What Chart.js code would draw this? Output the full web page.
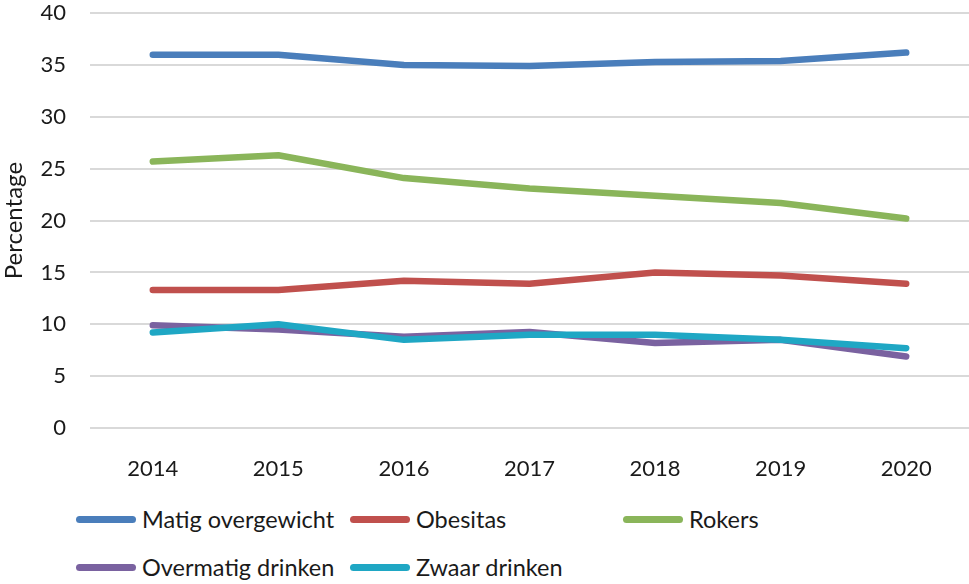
<!DOCTYPE html>
<html>
<head>
<meta charset="utf-8">
<script src="https://cdn.jsdelivr.net/npm/chart.js@4"></script>
<style>
  html, body { margin: 0; padding: 0; background: #fff; overflow: hidden; }
  #wrap { position: relative; width: 969px; height: 584px; font-family: Lato, sans-serif; overflow: hidden; }
  #chart-box { position: absolute; left: 0; top: -24px; width: 969px; height: 509px; }
  #legend {
    position: absolute; left: 76px; top: 495px;
    display: grid; grid-template-columns: 274px 273px 200px; grid-auto-rows: 48px;
  }
  .item { display: flex; align-items: center; font-size: 23.5px; color: #1a1a1a; white-space: nowrap; }
  .swatch { width: 60px; height: 7px; border-radius: 4px; margin-right: 6px; flex: none; }
</style>
</head>
<body>
<div id="wrap">
  <div id="chart-box"><canvas id="lineChart"></canvas></div>
  <div id="legend"></div>
</div>
<script>
const years = ["2014", "2015", "2016", "2017", "2018", "2019", "2020"];
const seriesNames = ["Matig overgewicht", "Obesitas", "Rokers", "Overmatig drinken", "Zwaar drinken"];
const matigOvergewicht = [36.0, 36.0, 35.0, 34.9, 35.3, 35.4, 36.2];
const obesitas = [13.3, 13.3, 14.2, 13.9, 15.0, 14.7, 13.9];
const rokers = [25.7, 26.3, 24.1, 23.1, 22.4, 21.7, 20.2];
const overmatigDrinken = [9.9, 9.5, 8.8, 9.25, 8.2, 8.5, 6.9];
const zwaarDrinken = [9.2, 10.0, 8.5, 9.0, 9.0, 8.5, 7.7];
const colors = ["#4a7ebb", "#c0504d", "#8ab55a", "#7a62a0", "#1fa7c4"];

const seriesData = [matigOvergewicht, obesitas, rokers, overmatigDrinken, zwaarDrinken];

const datasets = seriesNames.map((name, i) => ({
  label: name,
  data: seriesData[i],
  borderColor: colors[i],
  backgroundColor: colors[i],
  borderWidth: 6.5,
  borderCapStyle: "round",
  borderJoinStyle: "round",
  pointRadius: 0,
  tension: 0,
  fill: false,
  order: seriesNames.length - 1 - i, // last series on top, like Excel
}));

const ctx = document.getElementById("lineChart").getContext("2d");
const chart = new Chart(ctx, {
  type: "line",
  data: { labels: years, datasets: datasets },
  options: {
    responsive: true,
    maintainAspectRatio: false,
    animation: false,
    layout: { padding: 0 },
    plugins: {
      legend: { display: false },
      tooltip: { enabled: false },
    },
    scales: {
      x: {
        offset: true,
        grid: { display: false },
        border: { display: false },
        ticks: { color: "#1a1a1a", font: { family: "Lato", size: 22 }, padding: 20 },
        afterFit: (scale) => { scale.height = 57; },
      },
      y: {
        min: 0,
        max: 40,
        ticks: { stepSize: 5, color: "#1a1a1a", font: { family: "Lato", size: 22 }, padding: 24 },
        grid: { color: "#d9d9d9", lineWidth: 2, drawTicks: false },
        border: { display: false },
        title: {
          display: true,
          text: "Percentage",
          color: "#1a1a1a",
          font: { family: "Lato", size: 24 },
          padding: { top: 0, bottom: 0 },
        },
        afterFit: (scale) => { scale.width = 90; },
      },
    },
  },
});

// legend in the same grid as the original (3 columns, 2 rows)
const legend = document.getElementById("legend");
chart.data.datasets.forEach((ds) => {
  const item = document.createElement("div");
  item.className = "item";
  item.innerHTML = `<span class="swatch" style="background:${ds.borderColor}"></span>${ds.label}`;
  legend.appendChild(item);
});
</script>
</body>
</html>
